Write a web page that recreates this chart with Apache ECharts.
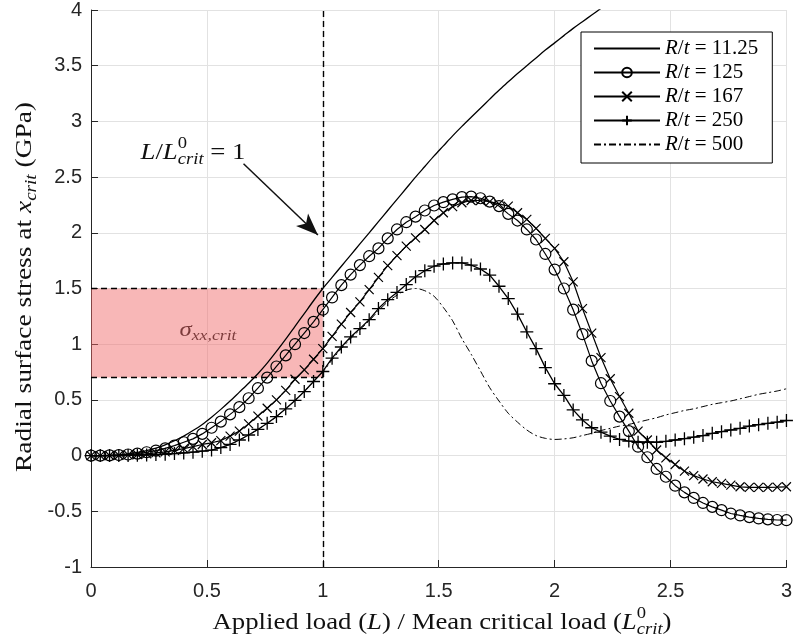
<!DOCTYPE html>
<html>
<head>
<meta charset="utf-8">
<script src="https://cdn.jsdelivr.net/npm/echarts@6/dist/echarts.min.js"></script>
<style>
  html, body { margin: 0; padding: 0; background: #fff; }
  #chart { width: 795px; height: 638px; }
</style>
</head>
<body>
<div id="chart"></div>
<script>
// load ratio L / L0crit, sampled where the markers sit
const xs = [0, 0.04, 0.08, 0.12, 0.16, 0.2, 0.24, 0.28, 0.32, 0.36,
  0.4, 0.44, 0.48, 0.52, 0.56, 0.6, 0.64, 0.68, 0.72, 0.76,
  0.8, 0.84, 0.88, 0.92, 0.96, 1.0, 1.04, 1.08, 1.12, 1.16,
  1.2, 1.24, 1.28, 1.32, 1.36, 1.4, 1.44, 1.48, 1.52, 1.56,
  1.6, 1.64, 1.68, 1.72, 1.76, 1.8, 1.84, 1.88, 1.92, 1.96,
  2.0, 2.04, 2.08, 2.12, 2.16, 2.2, 2.24, 2.28, 2.32, 2.36,
  2.4, 2.44, 2.48, 2.52, 2.56, 2.6, 2.64, 2.68, 2.72, 2.76,
  2.8, 2.84, 2.88, 2.92, 2.96, 3.0]

// radial surface stress (GPa), one list per R/t
const rt11 = [0, 0, 0.003, 0.007, 0.015, 0.028, 0.045, 0.068, 0.097, 0.133,
  0.175, 0.225, 0.28, 0.345, 0.415, 0.49, 0.57, 0.65, 0.735, 0.83,
  0.935, 1.045, 1.16, 1.275, 1.39, 1.5, 1.6, 1.7, 1.8, 1.9,
  2.0, 2.1, 2.2, 2.3, 2.4, 2.5, 2.595, 2.69, 2.78, 2.87,
  2.955, 3.037, 3.118, 3.2, 3.28, 3.355, 3.43, 3.5, 3.57, 3.64,
  3.705, 3.77, 3.835, 3.895, 3.955, 4.015, 4.075]
const rt125 = [0, 0, 0.002, 0.005, 0.01, 0.018, 0.03, 0.045, 0.065, 0.09,
  0.12, 0.15, 0.195, 0.25, 0.305, 0.37, 0.435, 0.515, 0.605, 0.7,
  0.8, 0.9, 1.0, 1.1, 1.2, 1.31, 1.42, 1.53, 1.625, 1.71,
  1.79, 1.86, 1.95, 2.03, 2.095, 2.145, 2.2, 2.245, 2.275, 2.3,
  2.32, 2.325, 2.31, 2.28, 2.24, 2.17, 2.11, 2.03, 1.94, 1.81,
  1.67, 1.5, 1.31, 1.09, 0.85, 0.65, 0.49, 0.35, 0.22, 0.08,
  -0.015, -0.12, -0.19, -0.27, -0.33, -0.38, -0.425, -0.46, -0.49, -0.52,
  -0.537, -0.552, -0.564, -0.572, -0.578, -0.58]
const rt167 = [0, 0, 0.001, 0.003, 0.006, 0.01, 0.016, 0.024, 0.034, 0.047,
  0.062, 0.08, 0.1, 0.115, 0.135, 0.175, 0.22, 0.285, 0.355, 0.425,
  0.5, 0.585, 0.685, 0.77, 0.865, 0.96, 1.07, 1.18, 1.285, 1.38,
  1.49, 1.6, 1.705, 1.795, 1.88, 1.955, 2.03, 2.11, 2.18, 2.235,
  2.27, 2.29, 2.29, 2.28, 2.26, 2.24, 2.18, 2.12, 2.04, 1.95,
  1.86, 1.74, 1.56, 1.32, 1.1, 0.88, 0.69, 0.53, 0.38, 0.22,
  0.14, 0.05, -0.02, -0.08, -0.14, -0.18, -0.21, -0.235, -0.25, -0.265,
  -0.28, -0.285, -0.285, -0.285, -0.283, -0.28]
const rt250 = [0, 0, 0, 0.001, 0.002, 0.004, 0.006, 0.009, 0.013, 0.018,
  0.024, 0.031, 0.04, 0.05, 0.072, 0.1, 0.14, 0.185, 0.235, 0.29,
  0.35, 0.42, 0.495, 0.575, 0.665, 0.755, 0.875, 0.975, 1.065, 1.14,
  1.22, 1.32, 1.4, 1.465, 1.535, 1.605, 1.66, 1.7, 1.72, 1.73,
  1.73, 1.71, 1.675, 1.62, 1.52, 1.41, 1.27, 1.11, 0.96, 0.79,
  0.645, 0.54, 0.41, 0.32, 0.25, 0.21, 0.175, 0.145, 0.13, 0.12,
  0.12, 0.12, 0.128, 0.14, 0.152, 0.165, 0.18, 0.2, 0.215, 0.23,
  0.245, 0.265, 0.278, 0.29, 0.3, 0.315]
const rt500 = [0, 0, 0, 0.001, 0.002, 0.004, 0.006, 0.009, 0.013, 0.018,
  0.024, 0.031, 0.04, 0.05, 0.072, 0.1, 0.14, 0.185, 0.235, 0.29,
  0.35, 0.42, 0.495, 0.575, 0.665, 0.75, 0.86, 0.96, 1.05, 1.13,
  1.21, 1.3, 1.38, 1.44, 1.485, 1.5, 1.48, 1.43, 1.33, 1.21,
  1.05, 0.91, 0.76, 0.61, 0.49, 0.38, 0.3, 0.23, 0.18, 0.155,
  0.145, 0.15, 0.16, 0.18, 0.2, 0.225, 0.245, 0.265, 0.28, 0.3,
  0.32, 0.34, 0.365, 0.385, 0.405, 0.42, 0.44, 0.46, 0.475, 0.49,
  0.51, 0.53, 0.55, 0.565, 0.58, 0.6]

const names = ['R/t = 11.25', 'R/t = 125', 'R/t = 167', 'R/t = 250', 'R/t = 500']

// critical stress band and the L/L0crit = 1 arrow (data units)
const critBand = [0.7, 1.5]
const arrowFrom = [0.658, 2.62]
const arrowTo = [0.979, 1.98]

const ink = '#262626'
const serif = '"Liberation Serif", "DejaVu Serif", serif'
const sans = '"Liberation Sans", Arial, sans-serif'

const pairs = ys => ys.map((y, i) => [xs[i], y])

// lays out math-ish labels (italic, sub, sup) as graphic text, stretched to a width
const measure = document.createElement('canvas').getContext('2d')
function mathLabel(parts, size, x, y, width, rotation) {
  let cx = 0
  const children = []
  parts.forEach(([t, kind, stack]) => {
    const small = kind === 'sup' || kind === 'sub' || kind === 'subi'
    const fs = small ? Math.round(size * 0.7) : size
    const italic = kind === 'i' || kind === 'subi'
    const font = (italic ? 'italic ' : '') + fs + 'px ' + serif
    measure.font = font
    const w = measure.measureText(t).width
    const dy = kind === 'sup' ? -size * 0.38 : small ? size * 0.28 : 0
    children.push({
      type: 'text', x: cx, y: dy,
      style: {text: t, font: font, fill: '#111', verticalAlign: 'middle', align: 'left'}
    })
    if (!stack) cx += w
  })
  children.forEach(c => { c.x -= cx / 2 })
  return {
    type: 'group', x: x, y: y, rotation: rotation || 0,
    scaleX: width / cx, scaleY: 1, silent: true, children: children
  }
}

const chart = echarts.init(document.getElementById('chart'), null, {renderer: 'canvas'})

const axisCommon = {
  type: 'value',
  axisLine: {onZero: false, lineStyle: {color: ink, width: 1}},
  axisTick: {inside: true, length: 7, lineStyle: {color: ink}},
  axisLabel: {color: ink, fontSize: 20, fontFamily: sans},
  splitLine: {lineStyle: {color: '#e2e2e2', width: 1}}
}

const dashed = {type: [6, 4], color: '#000', width: 1.4}
const hollow = {color: 'rgba(0,0,0,0)', borderColor: '#000', borderWidth: 1.2}
const noMark = {color: 'rgba(0,0,0,0)', borderColor: 'rgba(0,0,0,0)', borderWidth: 0}

const option = {
  animation: false,
  backgroundColor: '#fff',
  grid: {left: 91, right: 2, top: 10, bottom: 71},
  xAxis: Object.assign({}, axisCommon, {
    min: 0, max: 3, interval: 0.5,
    axisLabel: Object.assign({}, axisCommon.axisLabel, {margin: 14})
  }),
  yAxis: Object.assign({}, axisCommon, {
    min: -1, max: 4, interval: 0.5,
    axisLabel: Object.assign({}, axisCommon.axisLabel, {margin: 9})
  }),
  legend: {
    data: names,
    orient: 'vertical',
    left: 581, top: 32,
    itemWidth: 66, itemHeight: 12, itemGap: 3,
    backgroundColor: '#fff', borderColor: '#000', borderWidth: 1, borderRadius: 0,
    padding: [6, 14, 8, 12],
    textStyle: {
      color: '#000', fontSize: 21, lineHeight: 19, fontFamily: serif,
      rich: {
        i: {fontStyle: 'italic', fontSize: 21, lineHeight: 19, fontFamily: serif, color: '#000'},
        n: {fontSize: 21, lineHeight: 19, fontFamily: serif, color: '#000'}
      }
    },
    formatter: name => '{i|R}{n|/}{i|t}{n| = ' + name.split(' = ')[1] + '}'
  },
  graphic: [
    mathLabel([['Applied load (', 'n'], ['L', 'i'], [') / Mean critical load (', 'n'],
      ['L', 'i'], ['0', 'sup', true], ['crit', 'subi'], [')', 'n']], 23, 442, 623, 459),
    mathLabel([['Radial surface stress at ', 'n'], ['x', 'i'], ['crit', 'subi'], [' (GPa)', 'n']],
      23, 25, 287, 370, Math.PI / 2),
    mathLabel([['L', 'i'], ['/', 'n'], ['L', 'i'], ['0', 'sup', true], ['crit', 'subi'], [' = 1', 'n']],
      23, 193, 153, 105),
    mathLabel([['σ', 'i'], ['xx,crit', 'subi']], 21, 208, 330, 57)
  ],
  series: [
    {
      // holder for the shaded band and the annotation lines
      type: 'line', data: [], silent: true, z: 1,
      markArea: {
        silent: true,
        itemStyle: {color: 'rgba(240,105,105,0.48)'},
        data: [[{coord: [0, critBand[0]]}, {coord: [1, critBand[1]]}]]
      },
      markLine: {
        silent: true, symbol: 'none', label: {show: false},
        lineStyle: dashed,
        data: [
          {xAxis: 1},
          [{coord: [0, critBand[1]]}, {coord: [1, critBand[1]]}],
          [{coord: [0, critBand[0]]}, {coord: [1, critBand[0]]}],
          [{coord: arrowFrom, symbol: 'none', lineStyle: {type: 'solid', width: 1.5, color: '#111'}},
           {coord: arrowTo, symbol: 'arrow', symbolSize: [13, 22]}]
        ]
      }
    },
    {
      name: names[0], type: 'line', data: pairs(rt11), symbol: 'none', smooth: 0.3, z: 3,
      lineStyle: {color: '#000', width: 1.3}, itemStyle: noMark
    },
    {
      name: names[1], type: 'line', data: pairs(rt125), symbol: 'circle', symbolSize: 11, z: 3,
      lineStyle: {color: '#000', width: 1.2}, itemStyle: hollow
    },
    {
      name: names[2], type: 'line', data: pairs(rt167), symbol: 'path://M0,0L10,10M0,10L10,0', symbolSize: 9, z: 3,
      lineStyle: {color: '#000', width: 1.2}, itemStyle: hollow
    },
    {
      name: names[3], type: 'line', data: pairs(rt250), symbol: 'path://M5,0L5,10M0,5L10,5', symbolSize: 13, z: 3,
      lineStyle: {color: '#000', width: 1.3}, itemStyle: Object.assign({}, hollow, {borderWidth: 1.3})
    },
    {
      name: names[4], type: 'line', data: pairs(rt500), symbol: 'none', smooth: 0.3, z: 3,
      lineStyle: {color: '#000', width: 1, type: [7, 3, 2, 3]}, itemStyle: noMark
    }
  ]
}

chart.setOption(option)
</script>
</body>
</html>
